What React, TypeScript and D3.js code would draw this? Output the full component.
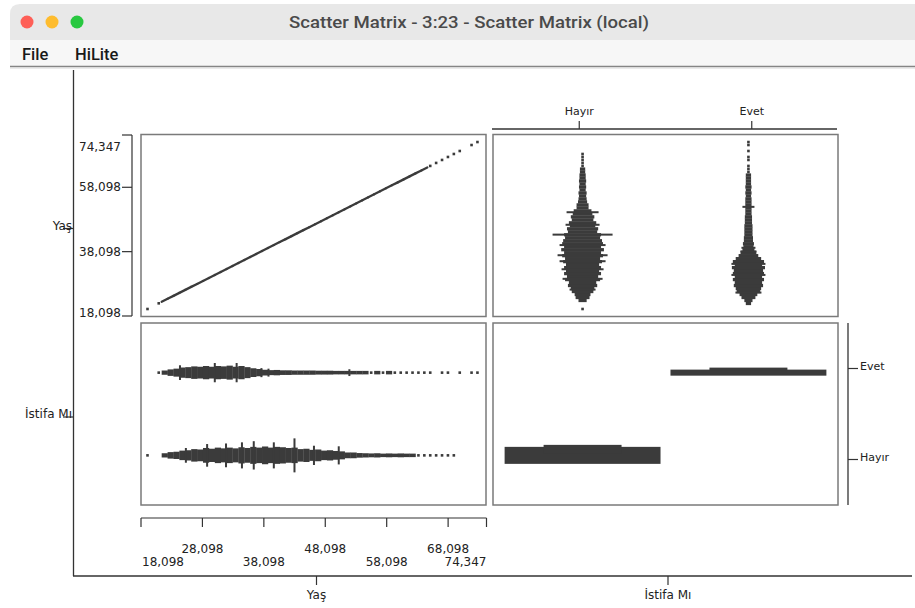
import * as d3 from 'd3'

// Yaş (age) range and ticks, Turkish decimal comma
const AGE_MIN = 18.098
const AGE_MAX = 74.347
const X_TICKS = [18.098, 28.098, 38.098, 48.098, 58.098, 68.098, 74.347]
const Y_TICKS = [18.098, 38.098, 58.098, 74.347]

// İstifa Mı categories
const CATS_X = ['Hayır', 'Evet']
const CATS_Y = ['Evet', 'Hayır']

// age bins 18..74, relative counts read from the jitter shapes
const AGES = d3.range(18, 75)
const hayirCounts = [
  1, 0, 0, 3, 6, 7, 10, 11, 14, 13,
  17, 15, 18, 16, 18, 16, 19, 17, 20, 18,
  21, 18, 20, 19, 17, 18, 14, 15, 12, 13,
  10, 11, 9, 8, 5, 5, 3.5, 3, 2.5, 3,
  2, 2.5, 2, 2.5, 2, 2, 1.5, 1.5, 1, 1,
  1, 1, 1, 0, 0, 0, 0,
]
const evetCounts = [
  0, 0, 1.5, 3, 6, 8, 11, 12, 14, 13,
  15, 13, 15, 14, 16, 13, 15, 12, 9, 7,
  5, 4, 4.5, 3.5, 3.5, 3, 3, 3, 3, 2.5,
  2.5, 2.5, 2, 2, 2, 2, 2, 2, 1.5, 2,
  1.5, 2, 1.5, 1.5, 1.5, 1.5, 1, 1, 1, 0,
  1, 1, 0, 1, 0, 1, 1,
]
// tied ages that jitter out as long thin lines
const hayirTies = [
  { age: 24.6, n: 13 }, { age: 28.2, n: 20 }, { age: 31.4, n: 21 },
  { age: 34.1, n: 23 }, { age: 36.1, n: 25 }, { age: 39.5, n: 23 },
  { age: 43.0, n: 30 }, { age: 46.3, n: 17 }, { age: 50.5, n: 16 },
]
const evetTies = [
  { age: 23.6, n: 13 }, { age: 29.5, n: 17 }, { age: 33.2, n: 17 },
  { age: 37.4, n: 8 }, { age: 38.6, n: 7 }, { age: 52.3, n: 6 },
]

const W = 915, H = 608
const INK = '#3b3b3b'
const AXIS = '#333'
const FONT = 'DejaVu Sans'

const COL_X = [141, 493], COL_W = 345
const ROW_Y = [134.5, 323], ROW_H = 182
const INSET = 6.5

const fmt = d3.formatLocale({ decimal: ',', thousands: '.', grouping: [3], currency: ['', ''] }).format('.3f')

export default function App() {
  const series = [
    { cat: 'Hayır', counts: hayirCounts, ties: hayirTies },
    { cat: 'Evet', counts: evetCounts, ties: evetTies },
  ]

  // numeric scales (axis = cell edge, marks = inset)
  const xAxis = d3.scaleLinear([AGE_MIN, AGE_MAX], [COL_X[0], COL_X[0] + COL_W + 0.5])
  const xAge = d3.scaleLinear([AGE_MIN, AGE_MAX], [COL_X[0] + INSET, COL_X[0] + COL_W - INSET])
  const yAxis = d3.scaleLinear([AGE_MIN, AGE_MAX], [ROW_Y[0] + ROW_H - 0.5, ROW_Y[0] + 0.5])
  const yAge = d3.scaleLinear([AGE_MIN, AGE_MAX], [ROW_Y[0] + ROW_H - INSET - 1, ROW_Y[0] + INSET])

  // nominal scales
  const xCatAxis = d3.scalePoint(CATS_X, [COL_X[1], COL_X[1] + COL_W]).padding(0.5)
  const xCat = d3.scalePoint(CATS_X, [COL_X[1], COL_X[1] + COL_W]).padding(0.54)
  const yCatAxis = d3.scalePoint(CATS_Y, [ROW_Y[1], ROW_Y[1] + ROW_H]).padding(0.5)
  const yCat = d3.scalePoint(CATS_Y, [ROW_Y[1], ROW_Y[1] + ROW_H]).padding(0.6)

  // jitter spread scales
  const trSpread = d3.scaleLinear([0, 30], [1.2, 30])
  const blSpread = d3.scaleLinear([0, 20], [1, 8.5])
  const trTie = d3.scaleLinear([0, 30], [0, 30])
  const blTie = d3.scaleLinear([0, 30], [0, 17])

  const sums = series.map((s) => d3.sum(s.counts) + d3.sum(s.ties, (t) => t.n))
  const brH = d3.scalePow().exponent(1.5).domain([0, d3.max(sums)!]).range([0, 17])

  const clampAge = (a: number) => Math.max(AGE_MIN, Math.min(AGE_MAX, a))
  const stepY = yAge(AGE_MIN) - yAge(AGE_MIN + 1)
  const stepX = xAge(AGE_MIN + 1) - xAge(AGE_MIN)
  const totals = AGES.map((_, i) => hayirCounts[i] + evetCounts[i])

  const cells = [
    [COL_X[0], ROW_Y[0]], [COL_X[1], ROW_Y[0]],
    [COL_X[0], ROW_Y[1]], [COL_X[1], ROW_Y[1]],
  ]

  const txt = { fontFamily: FONT, fill: '#222' }

  return (
    <svg width={W} height={H} style={{ position: 'absolute', left: 0, top: 0, background: '#fff' }}>
      {/* window chrome */}
      <path d={`M10,40 V14 Q10,4 20,4 H915 V40 Z`} fill="#e8e8e8" />
      <rect x={10} y={40} width={905} height={26} fill="#f7f7f7" />
      <line x1={10} x2={915} y1={66.5} y2={66.5} stroke="#858585" strokeWidth={1.6} />
      <line x1={10} x2={915} y1={68} y2={68} stroke="#d8d8d8" strokeWidth={1} />
      {['#fe5f57', '#febc2e', '#28c840'].map((c, i) => (
        <circle key={c} cx={27 + i * 25} cy={22} r={6.5} fill={c} />
      ))}
      <text x={469} y={27.5} textAnchor="middle" fontFamily="Roboto" fontWeight={500} fontSize={16.5}
        fill="#4a4a4a" textLength={360} lengthAdjust="spacingAndGlyphs">
        Scatter Matrix - 3:23 - Scatter Matrix (local)
      </text>
      <text x={22} y={60} fontFamily="Roboto" fontWeight={500} fontSize={16.5} fill="#1a1a1a">File</text>
      <text x={75} y={60} fontFamily="Roboto" fontWeight={500} fontSize={16.5} fill="#1a1a1a">HiLite</text>

      {/* outer axes */}
      <line x1={73.5} x2={73.5} y1={70} y2={576} stroke={AXIS} strokeWidth={1.3} />
      <line x1={73} x2={912} y1={576} y2={576} stroke={AXIS} strokeWidth={1.3} />
      {[['Yaş', ROW_Y[0] + ROW_H / 2 + 3], ['İstifa Mı', ROW_Y[1] + ROW_H / 2 + 3]].map(([l, y]) => (
        <g key={l as string}>
          <line x1={63} x2={73} y1={y as number} y2={y as number} stroke={AXIS} strokeWidth={1.2} />
          <text x={72} y={(y as number) + 1} textAnchor="end" fontSize={12} {...txt}>{l}</text>
        </g>
      ))}
      {[['Yaş', COL_X[0] + COL_W / 2 + 3], ['İstifa Mı', COL_X[1] + COL_W / 2 + 2.5]].map(([l, x]) => (
        <g key={l as string}>
          <line x1={x as number} x2={x as number} y1={576} y2={585} stroke={AXIS} strokeWidth={1.2} />
          <text x={x as number} y={599} textAnchor="middle" fontSize={12} {...txt}>{l}</text>
        </g>
      ))}

      {/* left Yaş axis */}
      <line x1={132} x2={132} y1={yAxis(AGE_MAX)} y2={yAxis(AGE_MIN)} stroke={AXIS} strokeWidth={1.2} />
      {Y_TICKS.map((t) => {
        const y = yAxis(t)
        const ly = Math.min(Math.max(y, yAxis(AGE_MAX) + 12), yAxis(AGE_MIN) - 3)
        return (
          <g key={t}>
            <line x1={122} x2={132} y1={y} y2={y} stroke={AXIS} strokeWidth={1.2} />
            <text x={121} y={ly + 4} textAnchor="end" fontSize={12} {...txt}>{fmt(t)}</text>
          </g>
        )
      })}

      {/* bottom Yaş axis */}
      <line x1={xAxis(AGE_MIN)} x2={xAxis(AGE_MAX)} y1={518} y2={518} stroke={AXIS} strokeWidth={1.2} />
      {X_TICKS.map((t, i) => {
        const x = xAxis(t)
        const anchor = i === 0 ? 'start' : i === X_TICKS.length - 1 ? 'end' : 'middle'
        return (
          <g key={t}>
            <line x1={x} x2={x} y1={518} y2={527} stroke={AXIS} strokeWidth={1.2} />
            <text x={i === 0 ? x + 1 : x} y={i % 2 === 0 ? 566 : 553} textAnchor={anchor} fontSize={12} {...txt}>
              {fmt(t)}
            </text>
          </g>
        )
      })}

      {/* top İstifa Mı axis */}
      <line x1={COL_X[1] - 1} x2={COL_X[1] + COL_W - 1} y1={129} y2={129} stroke={AXIS} strokeWidth={1.3} />
      {CATS_X.map((c) => (
        <g key={c}>
          <line x1={xCatAxis(c)!} x2={xCatAxis(c)!} y1={121} y2={129} stroke={AXIS} strokeWidth={1.2} />
          <text x={xCatAxis(c)!} y={115} textAnchor="middle" fontSize={11} {...txt}>{c}</text>
        </g>
      ))}

      {/* right İstifa Mı axis */}
      <line x1={848} x2={848} y1={ROW_Y[1]} y2={ROW_Y[1] + ROW_H} stroke={AXIS} strokeWidth={1.3} />
      {CATS_Y.map((c) => (
        <g key={c}>
          <line x1={848} x2={858} y1={yCatAxis(c)!} y2={yCatAxis(c)!} stroke={AXIS} strokeWidth={1.2} />
          <text x={860} y={yCatAxis(c)! + 1} fontSize={11} {...txt}>{c}</text>
        </g>
      ))}

      {/* cell frames */}
      {cells.map(([x, y], i) => (
        <rect key={i} x={x} y={y} width={COL_W} height={ROW_H} fill="#fff" stroke="#7a7a7a" strokeWidth={1.5} />
      ))}

      {/* Yaş x Yaş diagonal */}
      <g fill={INK} stroke={INK}>
        {AGES.map((a, i) => {
          const v = totals[i]
          if (v === 0) return null
          if (v < 2.5) {
            const c = clampAge(a)
            return <rect key={a} x={xAge(c) - 1.3} y={yAge(c) - 1.3} width={2.6} height={2.6} stroke="none" />
          }
          return (
            <line key={a} x1={xAge(a - 0.5)} y1={yAge(a - 0.5)} x2={xAge(a + 0.5)} y2={yAge(a + 0.5)}
              strokeWidth={2.3} strokeLinecap="round" />
          )
        })}
      </g>

      {/* İstifa Mı (x) x Yaş (y) */}
      <g fill={INK}>
        {series.map((s) => {
          const cx = xCat(s.cat)!
          return (
            <g key={s.cat}>
              {AGES.map((a, i) => {
                const v = s.counts[i]
                if (v === 0) return null
                const cy = yAge(clampAge(a))
                if (v <= 1) return <rect key={a} x={cx - 1.3} y={cy - 1.3} width={2.6} height={2.6} />
                const hw = trSpread(v)
                return <rect key={a} x={cx - hw} y={cy - stepY / 2} width={hw * 2} height={stepY + 0.3} />
              })}
              {s.ties.map((t) => (
                <rect key={t.age} x={cx - trTie(t.n)} y={yAge(t.age) - 1} width={trTie(t.n) * 2} height={2} />
              ))}
            </g>
          )
        })}
      </g>

      {/* Yaş (x) x İstifa Mı (y) */}
      <g fill={INK}>
        {series.map((s) => {
          const cy = yCat(s.cat)!
          return (
            <g key={s.cat}>
              {AGES.map((a, i) => {
                const v = s.counts[i]
                if (v === 0) return null
                const cx = xAge(clampAge(a))
                if (v <= 1.5) return <rect key={a} x={cx - 1.3} y={cy - 1.3} width={2.6} height={2.6} />
                const hh = blSpread(v)
                return <rect key={a} x={cx - stepX / 2} y={cy - hh} width={stepX + 0.3} height={hh * 2} />
              })}
              {s.ties.map((t) => (
                <rect key={t.age} x={xAge(t.age) - 1} y={cy - blTie(t.n)} width={2} height={blTie(t.n) * 2} />
              ))}
            </g>
          )
        })}
      </g>

      {/* İstifa Mı x İstifa Mı */}
      <g fill={INK}>
        {series.map((s, i) => {
          const cx = xCat(s.cat)!
          const cy = yCat(s.cat)!
          const hw = xCat.step() * 0.47
          const h = brH(sums[i])
          return (
            <g key={s.cat}>
              <rect x={cx - hw} y={cy - h / 2} width={hw * 2} height={h} />
              <rect x={cx - hw * 0.5} y={cy - h / 2 - 2} width={hw} height={h / 2} />
            </g>
          )
        })}
      </g>
    </svg>
  )
}
